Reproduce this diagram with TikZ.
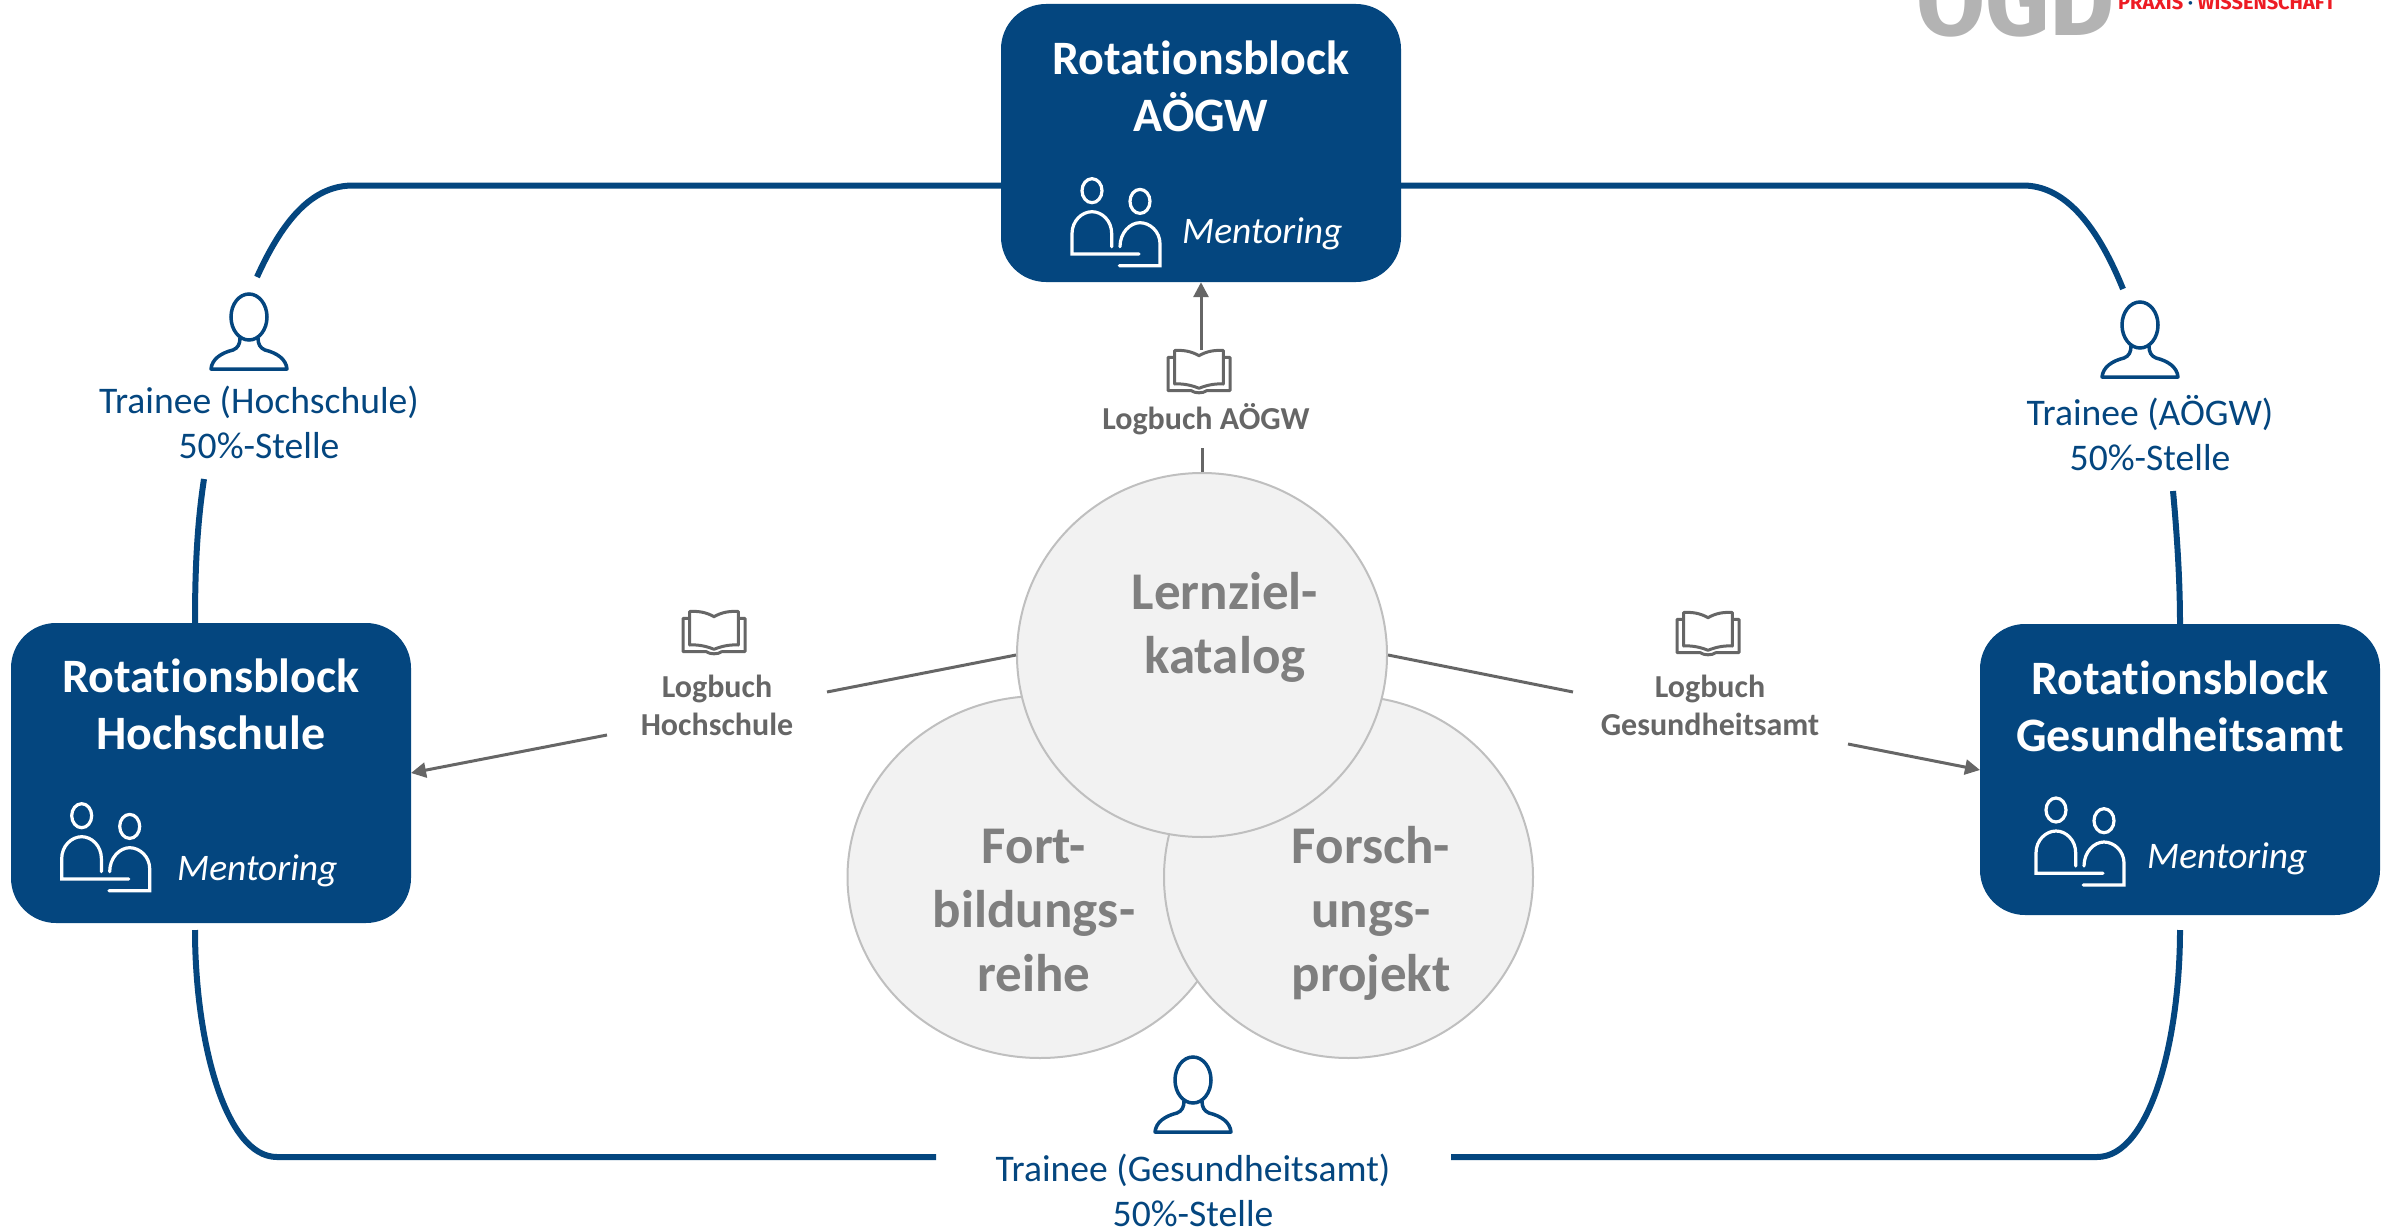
\documentclass[tikz,border=0pt]{standalone}
\usepackage{fontspec}
\setmainfont{Carlito}[Ligatures=NoCommon]
\newfontfamily\logofont{Fira Sans}
\usetikzlibrary{arrows.meta,shapes.geometric,calc}
\definecolor{navy}{HTML}{04467F}
\definecolor{ash}{HTML}{666666}
\definecolor{circfill}{HTML}{F2F2F2}
\definecolor{circline}{HTML}{BFBFBF}
\definecolor{circtext}{HTML}{7F7F7F}
\definecolor{logogray}{HTML}{B3B3B3}
\definecolor{logored}{HTML}{ED1C24}
\tikzset{
  x=1pt,y=-1pt,
  block/.style={draw=none,fill=navy,rectangle,rounded corners=45pt,minimum width=400pt,inner sep=0pt},
  blocktitle/.style={text=white,align=center,font=\fontsize{48}{57}\selectfont\bfseries},
  mentor/.style={text=white,anchor=base west,font=\fontsize{37.5}{44}\selectfont\itshape,inner sep=0pt},
  disc/.style={draw=circline,line width=2pt,fill=circfill,inner sep=0pt,ellipse},
  disctext/.style={text=circtext,align=center,font=\fontsize{53}{64}\selectfont\bfseries},
  ring/.style={draw=navy,line width=6pt},
  link/.style={draw=ash,line width=3pt},
  linktip/.style={link,-{Triangle[length=15pt,width=15pt]}},
  logtext/.style={text=ash,align=center,font=\fontsize{32}{38}\selectfont\bfseries},
  traineetext/.style={text=navy,align=center,font=\fontsize{37.6}{45}\selectfont},
  person/.pic={
    \draw[navy,line width=3.5pt] (0,0) ellipse[x radius=18,y radius=23];
    \draw[navy,line width=3.5pt,line join=round] (-9,21) .. controls (-9,27) and (-11,31) .. (-16,33)
      .. controls (-28,36) and (-37,42) .. (-38,52) -- (38,52)
      .. controls (37,42) and (28,36) .. (16,33) .. controls (11,31) and (9,27) .. (9,21);
  },
  mentoricon/.pic={
    \draw[white,line width=3.2pt] (0,0) ellipse[x radius=10,y radius=12];
    \draw[white,line width=3.2pt] (48,10.7) ellipse[x radius=10,y radius=12];
    \draw[white,line width=3.2pt,line cap=round] (19.7,56) -- (19.7,43) .. controls (19.7,30) and (10,21) .. (0,21)
      .. controls (-10,21) and (-20,30) .. (-20,43) -- (-20,63.3) -- (47,63.3);
    \draw[white,line width=3.2pt,line cap=round] (28,56) .. controls (28,42) and (38,32) .. (48,32)
      .. controls (58,32) and (68,41) .. (68,53) -- (68,75) -- (27.3,75);
  },
  logbook/.pic={
    \draw[ash,line width=3pt,line join=round] (0,-15.3) .. controls (-8,-20) and (-16,-21) .. (-24.3,-20.5) -- (-24.3,13)
      .. controls (-16,12.5) and (-8,14) .. (0,17.3)
      .. controls (8,14) and (16,12.5) .. (24.3,13) -- (24.3,-20.5)
      .. controls (16,-21) and (8,-20) .. (0,-15.3) -- cycle;
    \draw[ash,line width=3pt,line join=round] (-24.3,-13.7) -- (-31,-13.7) -- (-31,19.7) -- (-7.7,19.7)
      .. controls (-4,22.5) and (4,22.5) .. (7.7,19.7) -- (31,19.7) -- (31,-13.7) -- (24.3,-13.7);
  }
}
\begin{document}
\begin{tikzpicture}
\useasboundingbox (0,0) rectangle (2394,1231);

% logo, cut by the upper edge of the picture
\begin{scope}
  \clip (0,0) rectangle (2394,1231);
  \node[anchor=base west,inner sep=0pt,text=logogray,font=\logofont\fontsize{100}{100}\selectfont\bfseries] (logo) at (1916,36) {ÖGD};
  \node[anchor=base west,inner sep=0pt,text=logored,font=\logofont\fontsize{20}{24}\selectfont\bfseries] (logotext) at (2118,10) {PRAXIS \textcolor{navy}{·} WISSENSCHAFT};
\end{scope}

% free ends of the connectors
\coordinate (tlA) at (353,185.5);
\coordinate (tlB) at (257,277);
\coordinate (tlC) at (204,479);
\coordinate (blA) at (195,930);
\coordinate (blB) at (277,1157);
\coordinate (blC) at (936,1157);
\coordinate (trA) at (2023,185.5);
\coordinate (trB) at (2123,289);
\coordinate (trC) at (2173,491);
\coordinate (brA) at (2180,930);
\coordinate (brB) at (2097,1157);
\coordinate (brC) at (1451,1157);
\coordinate (stubT) at (1202,448);
\coordinate (arrT) at (1201,350);
\coordinate (leftA) at (827,692);
\coordinate (leftB) at (607,735);
\coordinate (rightA) at (1573,692);
\coordinate (rightB) at (1848,744);
\coordinate (leftTip) at (411,773);
\coordinate (rightTip) at (1980,770);

% ring
\node[block,minimum height=278pt] (tbox) at (1201,143) {};
\node[block,minimum height=300pt] (lbox) at (211,773) {};
\node[block,minimum height=291pt] (rbox) at (2180,769.5) {};

\draw[ring] (tbox.west |- tlA) -- (tlA) .. controls (315,185.5) and (285,215) .. (tlB);
\draw[ring] (tlC) .. controls (197,525) and (195,570) .. (195,623);
\draw[ring] (blA) .. controls (195,1040) and (225,1157) .. (blB) -- (blC);
\draw[ring] (tbox.east |- trA) -- (trA) .. controls (2062,185.5) and (2095,220) .. (trB);
\draw[ring] (trC) .. controls (2177,535) and (2180,580) .. (2180,624);
\draw[ring] (brA) .. controls (2180,1040) and (2150,1157) .. (brB) -- (brC);

% circles
\node[disc,minimum width=385pt,minimum height=362pt] (fort) at (1040,877) {};
\node[disc,minimum width=369pt,minimum height=362pt] (forsch) at (1348.5,877) {};
\node[disc,minimum width=370pt,minimum height=364pt] (lern) at (1202,655) {};
\node[disctext] (lerntext) at (1225,627) {Lernziel-\\katalog};
\node[disctext] (forttext) at (1034,911) {Fort-\\bildungs-\\reihe};
\node[disctext] (forschtext) at (1371,913) {Forsch-\\ungs-\\projekt};

% block contents
\node[blocktitle] (ttitle) at (1201,86) {Rotationsblock\\AÖGW};
\node[blocktitle] (ltitle) at (211,704) {Rotationsblock\\Hochschule};
\node[blocktitle] (rtitle) at (2180,706) {Rotationsblock\\Gesundheitsamt};
\pic at (1092,190.7) {mentoricon};
\pic at (81.7,815.7) {mentoricon};
\pic at (2056,810) {mentoricon};
\node[mentor] (tment) at (1182,243) {Mentoring};
\node[mentor] (lment) at (177,880) {Mentoring};
\node[mentor] (rment) at (2147,868) {Mentoring};

% trainees
\pic at (249,317) {person};
\pic at (2140,325) {person};
\pic at (1193,1080) {person};
\node[traineetext] (tr1) at (259,422) {Trainee (Hochschule)\\50\%-Stelle};
\node[traineetext] (tr2) at (2150,433) {Trainee (AÖGW)\\50\%-Stelle};
\node[traineetext] (tr3) at (1193,1190) {Trainee (Gesundheitsamt)\\50\%-Stelle};

% logbooks
\pic at (1199,371) {logbook};
\pic at (714,632) {logbook};
\pic at (1708,633) {logbook};
\node[logtext] (logT) at (1206,419) {Logbuch AÖGW};
\node[logtext] (logL) at (717,705) {Logbuch\\Hochschule};
\node[logtext] (logR) at (1710,705) {Logbuch\\Gesundheitsamt};

% links
\draw[link] (lern.north) -- (stubT);
\draw[linktip] (arrT) -- (tbox.south -| arrT);
\draw[link] (lern.west) -- (leftA);
\draw[linktip] (leftB) -- (leftTip);
\draw[link] (lern.east) -- (rightA);
\draw[linktip] (rightB) -- (rightTip);
\end{tikzpicture}
\end{document}
